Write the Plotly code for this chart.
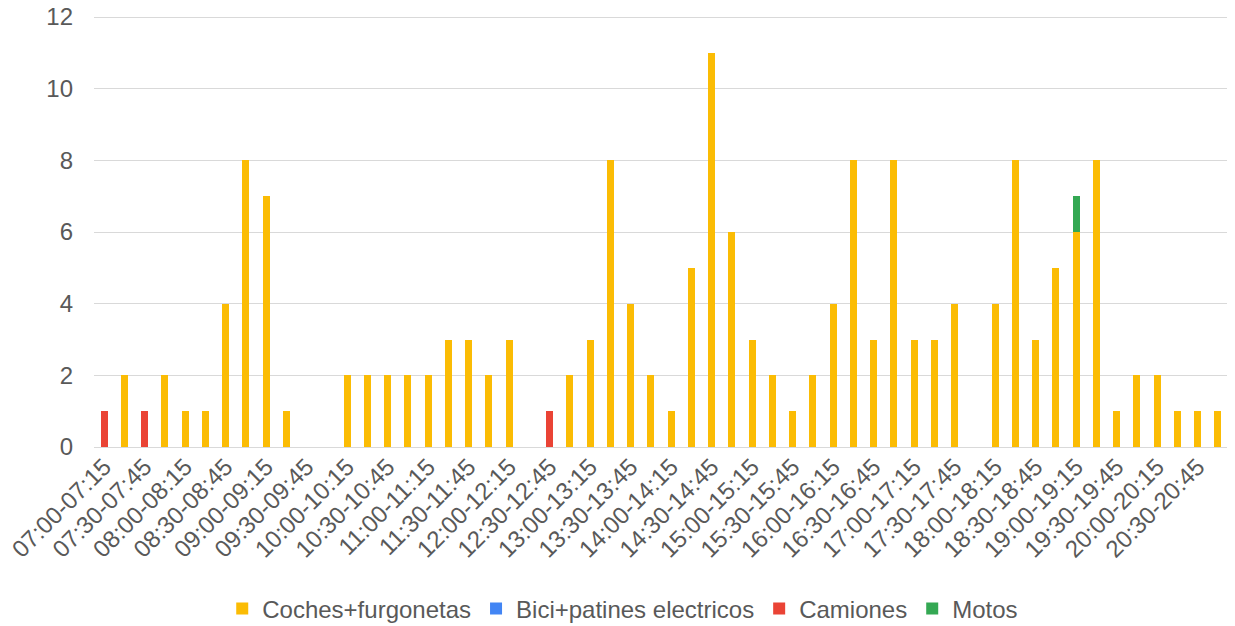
import plotly.graph_objects as go

starts = []
for h in range(7, 21):
    for m in (0, 15, 30, 45):
        starts.append((h, m))
categories = []
for h, m in starts:
    eh, em = (h, m + 15) if m < 45 else (h + 1, 0)
    categories.append(f"{h:02d}:{m:02d}-{eh:02d}:{em:02d}")

coches = [0, 2, 0, 2, 1, 1, 4, 8, 7, 1,
          0, 0, 2, 2, 2, 2, 2, 3, 3, 2,
          3, 0, 0, 2, 3, 8, 4, 2, 1, 5,
          11, 6, 3, 2, 1, 2, 4, 8, 3, 8,
          3, 3, 4, 0, 4, 8, 3, 5, 6, 8,
          1, 2, 2, 1, 1, 1]
bici = [0] * 56
camiones = [1, 0, 1, 0, 0, 0, 0, 0, 0, 0,
            0, 0, 0, 0, 0, 0, 0, 0, 0, 0,
            0, 0, 1, 0, 0, 0, 0, 0, 0, 0,
            0, 0, 0, 0, 0, 0, 0, 0, 0, 0,
            0, 0, 0, 0, 0, 0, 0, 0, 0, 0,
            0, 0, 0, 0, 0, 0]
motos = [0] * 56
motos[48] = 1

series_names = ["Coches+furgonetas", "Bici+patines electricos", "Camiones", "Motos"]
series_values = [coches, bici, camiones, motos]
series_colors = ["#FBBC04", "#4285F4", "#EA4335", "#34A853"]

tick_labels = categories[::2]

font_family = "Liberation Sans, Arial, sans-serif"
text_color = "#595959"

# page body has an 8px margin, so the figure is sized to fit the window
W, H = 1227, 618
# a little headroom above 12 so that its gridline is drawn
y_top = 12 + 4 * 12 / 430

fig = go.Figure()
for name, vals, col in zip(series_names, series_values, series_colors):
    fig.add_trace(go.Bar(
        x=categories, y=vals, name=name,
        marker=dict(color=col, line=dict(width=0)),
    ))

fig.update_layout(
    barmode="stack",
    bargap=0.65,
    width=W, height=H,
    margin=dict(l=86, r=7, t=5, b=179, autoexpand=False),
    plot_bgcolor="white",
    paper_bgcolor="white",
    font=dict(family=font_family, color=text_color, size=24),
    showlegend=True,
    legend=dict(
        orientation="h",
        xref="container", x=0.501, xanchor="center",
        yref="container", y=1 - 601 / H, yanchor="middle",
        font=dict(size=24, color=text_color),
        itemwidth=30,
        traceorder="normal",
    ),
    xaxis=dict(
        type="category",
        tickmode="array",
        tickvals=tick_labels,
        ticktext=tick_labels,
        tickangle=-45,
        showgrid=False,
        showline=False,
        ticks="",
        automargin=False,
        ticklabeloverflow="allow",
        tickfont=dict(size=24, color=text_color),
    ),
    yaxis=dict(
        range=[0, y_top],
        tickmode="array",
        tickvals=[0, 2, 4, 6, 8, 10, 12],
        showgrid=True,
        gridcolor="#D9D9D9",
        gridwidth=1,
        zeroline=True,
        zerolinecolor="#D9D9D9",
        zerolinewidth=1,
        ticks="",
        automargin=False,
        ticklabeloverflow="allow",
        ticklabelstandoff=20,
        tickfont=dict(size=24, color=text_color),
    ),
)

fig.write_html("out.html")
